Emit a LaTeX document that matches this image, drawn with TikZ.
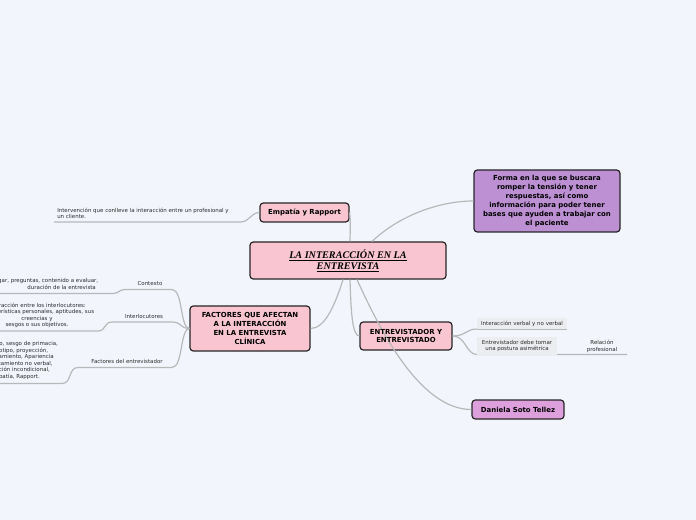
\documentclass[tikz,border=0pt]{standalone}
\usepackage{fontspec}
\setmainfont{DejaVu Sans}
\newfontfamily\titlefont{Liberation Serif}
\usetikzlibrary{calc}
\definecolor{bgc}{HTML}{F3F5FD}
\definecolor{pinkc}{HTML}{F9C5D1}
\definecolor{purplec}{HTML}{BC90D3}
\definecolor{orchidc}{HTML}{DDA0DD}
\definecolor{connc}{HTML}{B8B8B8}
\definecolor{subc}{HTML}{ECEDF1}
\definecolor{txtc}{HTML}{2A2A2A}
\tikzset{
  topic/.style={draw=black!85, line width=0.9pt, rounded corners=2.5pt, align=center,
    inner sep=0pt, text=black, font=\fontsize{5.2}{6.7}\selectfont\bfseries},
  conn/.style={draw=connc, line width=0.9pt},
  small/.style={inner sep=0pt, text=txtc, font=\fontsize{4.1}{4.9}\selectfont},
  subbox/.style={small, fill=subc, align=center},
}
\begin{document}
\begin{tikzpicture}[x=0.75pt,y=-0.75pt]
\fill[bgc] (0,0) rectangle (696,520);
\clip (0,0) rectangle (696,520);

% coordinates for free ends
\coordinate (edR) at (240,222);
\coordinate (edL) at (54,222);
\coordinate (ctxR) at (172,289.5);
\coordinate (ctxL) at (125,289.5);
\coordinate (ctxdR) at (113,293.5);
\coordinate (ctxdL) at (0,293.5);
\coordinate (itlR) at (172,322);
\coordinate (itlL) at (112,322);
\coordinate (itldR) at (98,331);
\coordinate (itldL) at (0,331);
\coordinate (fenR) at (172,367.5);
\coordinate (fenL) at (78,367.5);
\coordinate (fendR) at (62,383.5);
\coordinate (fendL) at (0,383.5);
\coordinate (ivL) at (477,329);
\coordinate (ivR) at (567,329);
\coordinate (pasL) at (477,354.5);
\coordinate (rpR) at (627,354.5);

% boxes
\node[topic, fill=pinkc, minimum width=147pt, minimum height=27.75pt] (c) at (348,260.5) {};
\node[topic, fill=pinkc, minimum width=66.75pt, minimum height=14.25pt] (e) at (304.5,212.5) {};
\node[topic, fill=pinkc, minimum width=90pt, minimum height=33.75pt] (fa) at (250,328.5) {};
\node[topic, fill=pinkc, minimum width=69pt, minimum height=21pt] (en) at (406,336) {};
\node[topic, fill=purplec, minimum width=109.5pt, minimum height=46.5pt] (f) at (547,201) {};
\node[topic, fill=orchidc, minimum width=69pt, minimum height=14.25pt] (d) at (518,409.5) {};

% connectors
\draw[conn] (e.east) .. controls (351,225) and (350,232) .. ($(c.north)+(2,0)$);
\draw[conn] ($(c.north)+(24,0)$) .. controls (400,215) and (440,201) .. (f.west);
\draw[conn] ($(c.south)+(-5,0)$) .. controls (335,305) and (325,328.5) .. (fa.east);
\draw[conn] ($(c.south)+(2,0)$) .. controls (351,310) and (352,336) .. (en.west);
\draw[conn] ($(c.south)+(9,0)$) .. controls (380,330) and (420,409.5) .. (d.west);

\draw[conn] (e.west) .. controls (250,213) and (250,222) .. (edR) -- (edL);
\draw[conn] (fa.west) .. controls (180,328.5) and (183,289.5) .. (ctxR) -- (ctxL) .. controls (119,289.5) and (119,293.5) .. (ctxdR) -- (ctxdL);
\draw[conn] (fa.west) .. controls (180,328.5) and (182,322) .. (itlR) -- (itlL) .. controls (104,322) and (106,331) .. (itldR) -- (itldL);
\draw[conn] (fa.west) .. controls (180,328.5) and (183,367.5) .. (fenR) -- (fenL) .. controls (68,367.5) and (72,383.5) .. (fendR) -- (fendL);
\draw[conn] (en.east) .. controls (466,336) and (466,329) .. (ivL);
\draw[conn] (en.east) .. controls (466,336) and (466,354.5) .. (pasL) -- (rpR);

% node texts
\node[topic, draw=none, rounded corners=0pt, font=\titlefont\bfseries\itshape\fontsize{7.6}{8.25}\selectfont] (ct) at (348,261) {\underline{LA INTERACCIÓN EN LA}\\\underline{ENTREVISTA}};
\node[topic, draw=none] (et) at (e) {Empatía y Rapport};
\node[topic, draw=none] (fat) at (fa) {FACTORES QUE AFECTAN\\A LA INTERACCIÓN\\EN LA ENTREVISTA\\CLÍNICA};
\node[topic, draw=none] (ent) at (en) {ENTREVISTADOR Y\\ENTREVISTADO};
\node[topic, draw=none] (ft) at (f) {Forma en la que se buscara\\romper la tensión y tener\\respuestas, así como\\información para poder tener\\bases que ayuden a trabajar con\\el paciente};
\node[topic, draw=none] (dt) at (d) {Daniela Soto Tellez};

% small texts
\node[small, align=left, anchor=west] (ed) at (57,213.5) {Intervención que conlleve la interacción entre un profesional y\\un cliente.};
\node[small] (ctx) at (150,283.5) {Contexto};
\node[small] (itl) at (144,316) {Interlocutores};
\node[small] (fen) at (127,361) {Factores del entrevistador};
\node[small, align=center] (ctxd) at (45,284) {Lugar, preguntas, contenido a evaluar,\\\hspace*{25pt}duración de la entrevista};
\node[small, align=center] (itld) at (37,315.5) {Interacción entre los interlocutores:\\Características personales, aptitudes, sus\\creencias y\\sesgos o sus objetivos.};
\node[small, align=center] (fend) at (15,360.5) {Efecto halo, sesgo de primacia,\\Estereotipo, proyección,\\Encuadramiento, Apariencia\\Comportamiento no verbal,\\Aceptación incondicional,\\Empatía, Rapport.};

\node[subbox, minimum width=67.5pt, minimum height=8.25pt] (iv) at (522,323.5) {Interacción verbal y no verbal};
\draw[conn, line width=0.5pt] (ivL) -- (ivR);
\node[subbox, minimum width=60pt, minimum height=13pt] (pas) at (517,346) {Entrevistador debe tomar\\una postura asimétrica};
\node[small, align=center] (rp) at (602,346.5) {Relación\\profesional};
\end{tikzpicture}
\end{document}
